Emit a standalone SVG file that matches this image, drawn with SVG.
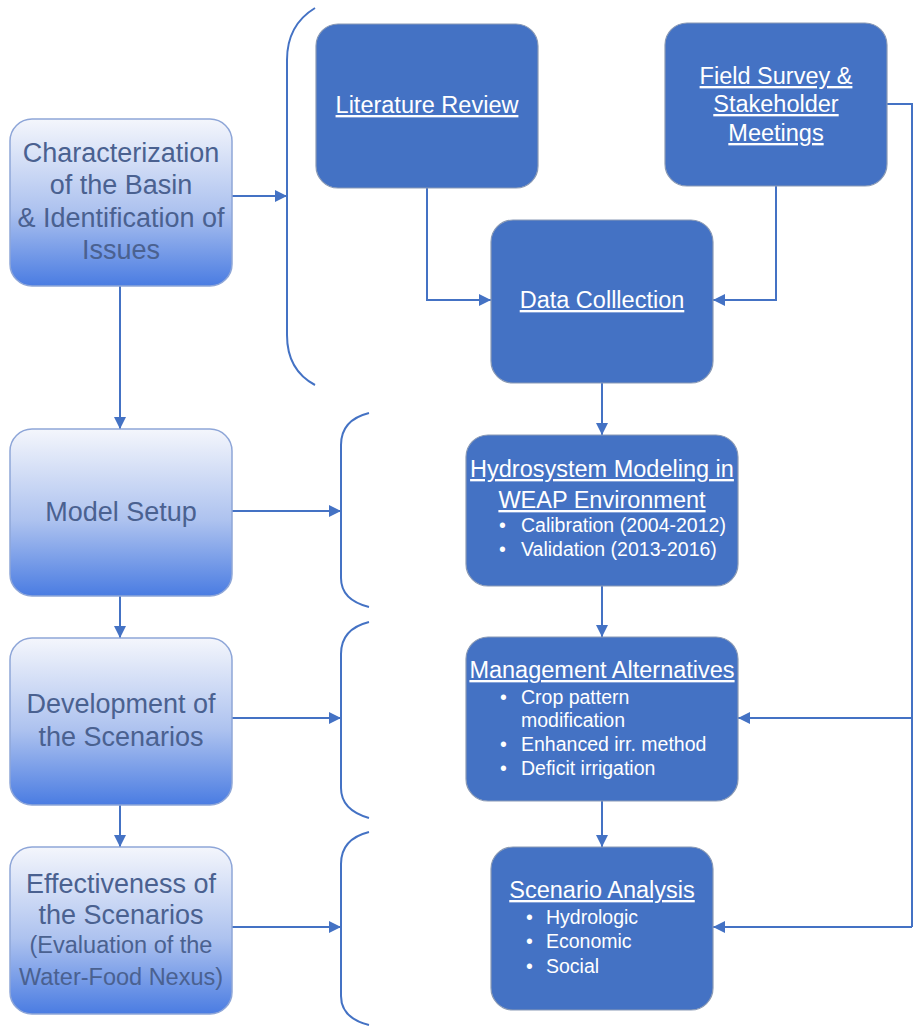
<svg xmlns="http://www.w3.org/2000/svg" width="914" height="1026" viewBox="0 0 914 1026">
<defs>
<linearGradient id="lg" x1="0" y1="0" x2="0" y2="1">
<stop offset="0" stop-color="#f4f6fc"/>
<stop offset="0.55" stop-color="#adc2ef"/>
<stop offset="1" stop-color="#4a7ce2"/>
</linearGradient>
<marker id="ah" viewBox="0 0 10 10" refX="10" refY="5" markerWidth="12" markerHeight="12" markerUnits="userSpaceOnUse" orient="auto">
<path d="M0,0 L10,5 L0,10 Z" fill="#4472c4"/>
</marker>
<style>
.lb{fill:url(#lg);stroke:#8ea6d8;stroke-width:1.5}
.rb{fill:#4472c4;stroke:#8a9ab5;stroke-width:1.2}
.lt{font-family:"Liberation Sans",Arial,sans-serif;font-size:27px;fill:#4a6190;text-anchor:middle}
.ls{font-size:23.5px}
.rt{font-family:"Liberation Sans",Arial,sans-serif;font-size:23.5px;fill:#ffffff;text-anchor:middle;text-decoration:underline}
.bt{font-family:"Liberation Sans",Arial,sans-serif;font-size:19.5px;fill:#ffffff}
.c{fill:none;stroke:#4472c4;stroke-width:2}
.a{marker-end:url(#ah)}
</style>
</defs>

<g id="connectors">
<path class="c a" d="M120,286 V429"/>
<path class="c a" d="M120,596 V638"/>
<path class="c a" d="M120,805 V847"/>
<path class="c a" d="M232,196 H287"/>
<path class="c a" d="M232,511 H341"/>
<path class="c a" d="M232,718 H341"/>
<path class="c a" d="M232,927 H341"/>
<path class="c" d="M315,8 Q287,25 287,60 V335 Q287,370 315,385"/>
<path class="c" d="M369,413 Q341,420 341,445 V578 Q341,600 369,607"/>
<path class="c" d="M369,622 Q341,629 341,654 V788 Q341,810 369,818"/>
<path class="c" d="M369,832 Q341,839 341,864 V996 Q341,1018 369,1025"/>
<path class="c a" d="M427,188 V300 H491"/>
<path class="c a" d="M776,186 V300 H713"/>
<path class="c a" d="M602,383 V435"/>
<path class="c a" d="M602,586 V637"/>
<path class="c a" d="M602,801 V847"/>
<path class="c" d="M887,104 H912 V927"/>
<path class="c a" d="M912,718 H738"/>
<path class="c a" d="M912,927 H713"/>
</g>

<g id="n-characterization">
<rect class="lb" x="10" y="119" width="222" height="167" rx="22"/>
<text class="lt" x="121" y="162">Characterization</text>
<text class="lt" x="121" y="194">of the Basin</text>
<text class="lt" x="121" y="227">&amp; Identification of</text>
<text class="lt" x="121" y="259">Issues</text>
</g>
<g id="n-model-setup">
<rect class="lb" x="10" y="429" width="222" height="167" rx="22"/>
<text class="lt" x="121" y="521">Model Setup</text>
</g>
<g id="n-development">
<rect class="lb" x="10" y="638" width="222" height="167" rx="22"/>
<text class="lt" x="121" y="713">Development of</text>
<text class="lt" x="121" y="746">the Scenarios</text>
</g>
<g id="n-effectiveness">
<rect class="lb" x="10" y="847" width="222" height="167" rx="22"/>
<text class="lt" x="121" y="893">Effectiveness of</text>
<text class="lt" x="121" y="924">the Scenarios</text>
<text class="lt ls" x="121" y="953">(Evaluation of the</text>
<text class="lt ls" x="121" y="985">Water-Food Nexus)</text>
</g>

<g id="n-literature">
<rect class="rb" x="316" y="24" width="222" height="164" rx="22"/>
<text class="rt" x="427" y="113">Literature Review</text>
</g>
<g id="n-field">
<rect class="rb" x="665" y="23" width="222" height="163" rx="22"/>
<text class="rt" x="776" y="84">Field Survey &amp;</text>
<text class="rt" x="776" y="112">Stakeholder</text>
<text class="rt" x="776" y="141">Meetings</text>
</g>
<g id="n-data">
<rect class="rb" x="491" y="220" width="222" height="163" rx="22"/>
<text class="rt" x="602" y="308">Data Colllection</text>
</g>
<g id="n-hydro">
<rect class="rb" x="466" y="435" width="272" height="151" rx="22"/>
<text class="rt" x="602" y="477">Hydrosystem Modeling in</text>
<text class="rt" x="602" y="508">WEAP Environment</text>
<text class="bt" x="499" y="532">•</text>
<text class="bt" x="521" y="532">Calibration (2004-2012)</text>
<text class="bt" x="499" y="556">•</text>
<text class="bt" x="521" y="556">Validation (2013-2016)</text>
</g>
<g id="n-management">
<rect class="rb" x="466" y="637" width="272" height="164" rx="22"/>
<text class="rt" x="602" y="678">Management Alternatives</text>
<text class="bt" x="500" y="704">•</text>
<text class="bt" x="521" y="704">Crop pattern</text>
<text class="bt" x="521" y="727">modification</text>
<text class="bt" x="500" y="751">•</text>
<text class="bt" x="521" y="751">Enhanced irr. method</text>
<text class="bt" x="500" y="775">•</text>
<text class="bt" x="521" y="775">Deficit irrigation</text>
</g>
<g id="n-scenario">
<rect class="rb" x="491" y="847" width="222" height="163" rx="22"/>
<text class="rt" x="602" y="898">Scenario Analysis</text>
<text class="bt" x="526" y="924">•</text>
<text class="bt" x="546" y="924">Hydrologic</text>
<text class="bt" x="526" y="948">•</text>
<text class="bt" x="546" y="948">Economic</text>
<text class="bt" x="526" y="973">•</text>
<text class="bt" x="546" y="973">Social</text>
</g>
</svg>
